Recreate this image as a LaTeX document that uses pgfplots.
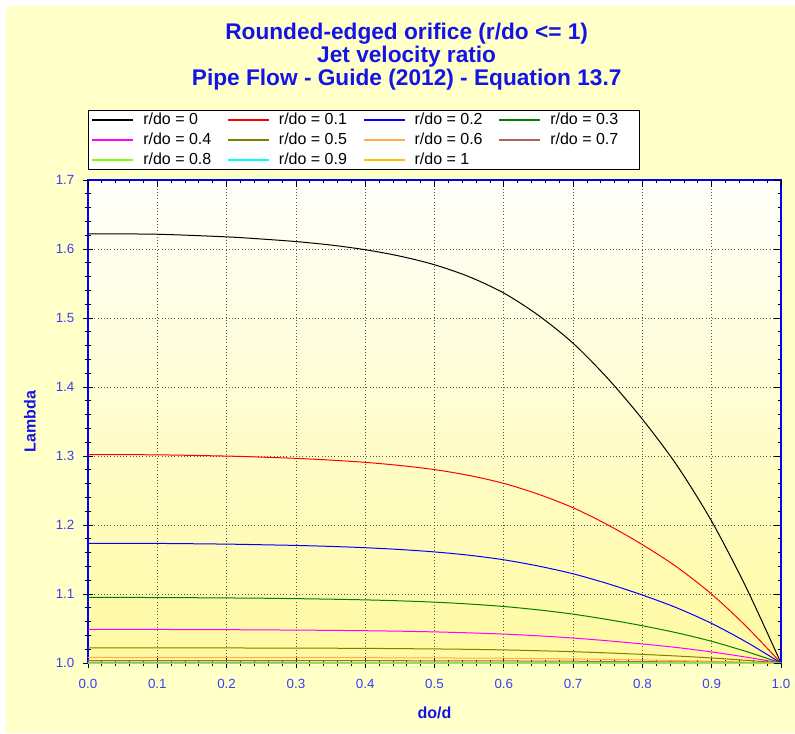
\documentclass[border=0pt]{standalone}
\usepackage{fontspec}
\setmainfont{Liberation Sans}
\usepackage{pgfplots}
\pgfplotsset{compat=1.18}
\definecolor{bgyellow}{RGB}{255,255,200}
\definecolor{plottop}{RGB}{255,255,252}
\definecolor{plotbottom}{RGB}{255,250,160}
\definecolor{titleblue}{RGB}{20,20,230}
\definecolor{tickblue}{RGB}{60,60,255}
\definecolor{lred}{RGB}{255,0,0}
\definecolor{lblue}{RGB}{0,0,255}
\definecolor{lgreen}{RGB}{0,128,0}
\definecolor{lmagenta}{RGB}{255,0,255}
\definecolor{lolive}{RGB}{128,128,0}
\definecolor{lorange}{RGB}{255,176,64}
\definecolor{lbrown}{RGB}{176,96,96}
\definecolor{llime}{RGB}{128,255,0}
\definecolor{lcyan}{RGB}{0,255,255}
\definecolor{lgold}{RGB}{255,192,0}

\newcommand{\lent}[1]{\addlegendentry{\makebox[68pt][l]{\hspace*{6pt}#1}}}
% legend sample: a thin filled bar in the plot's colour
\pgfplotsset{limg/.style={legend image code/.code={%
  \fill[fill=#1] (0pt,-0.5pt) rectangle (30pt,0.5pt);}}}

\begin{document}
\begin{tikzpicture}[x=1pt,y=1pt]
% page background, white strip on top and left
\fill[white] (-66,-52.5) rectangle (530.25,497.25);
\fill[bgyellow] (-61.5,-52.5) rectangle (530.25,492.75);

\begin{axis}[at={(0,0)}, anchor=south west, scale only axis,
  width=519.75pt, height=362.25pt,
  xmin=0, xmax=1, ymin=1, ymax=1.7,
  xtick={0,0.1,0.2,0.3,0.4,0.5,0.6,0.7,0.8,0.9,1},
  ytick={1,1.1,1.2,1.3,1.4,1.5,1.6,1.7},
  minor tick num=4,
  xtick pos=left, ytick pos=left,
  tick align=center,
  major tick length=7.5pt, minor tick length=4.5pt,
  tick style={black, line width=0.6pt},
  axis line style={blue, line width=1.1pt},
  grid=major, major grid style={dotted, black!65, line width=0.6pt},
  axis background/.style={shade, top color=plottop, bottom color=plotbottom},
  /pgf/number format/assume math mode=true,
  tick label style={font=\fontsize{10}{12}\selectfont, text=tickblue},
  xticklabel style={yshift=-4.5pt, /pgf/number format/.cd, fixed, fixed zerofill, precision=1},
  yticklabel style={xshift=-3pt, /pgf/number format/.cd, fixed, fixed zerofill, precision=1},
  xlabel={do/d}, ylabel={Lambda},
  label style={font=\fontsize{12}{14}\selectfont\bfseries, text=titleblue},
  xlabel style={at={(axis description cs:0.5,-0.1035)}, anchor=center},
  ylabel style={at={(axis description cs:-0.0837,0.5)}, anchor=center},
  legend columns=4, legend cell align=left,
  legend style={at={(axis description cs:0,1.1449)}, anchor=north west,
    fill=white, font=\fontsize{12}{14}\selectfont,
    inner xsep=3pt, inner ysep=0.5pt, row sep=1.8pt,
    nodes={inner sep=1.5pt}},
  every axis plot/.append style={line width=0.75pt}
]
\addplot[color=black, smooth, limg=black] coordinates {
 (0,1.6220) (0.1,1.6214) (0.2,1.6176) (0.25,1.6145) (0.3,1.6108) (0.35,1.6058)
 (0.4,1.5990) (0.45,1.5897) (0.5,1.5772) (0.55,1.5598) (0.6,1.5362) (0.65,1.5038)
 (0.7,1.4634) (0.75,1.4124) (0.8,1.3533) (0.85,1.2861) (0.9,1.2053) (0.95,1.1089) (1,1.0)};
\lent{r/do = 0}
\addplot[color=lred, smooth, limg=lred] coordinates {
 (0,1.3020) (0.1,1.3017) (0.2,1.2999) (0.25,1.2984) (0.3,1.2966) (0.35,1.2941)
 (0.4,1.2908) (0.45,1.2863) (0.5,1.2803) (0.55,1.2718) (0.6,1.2603) (0.65,1.2446)
 (0.7,1.2250) (0.75,1.2002) (0.8,1.1715) (0.85,1.1389) (0.9,1.0997) (0.95,1.0529) (1,1.0)};
\lent{r/do = 0.1}
\addplot[color=lblue, smooth, limg=lblue] coordinates {
 (0,1.1735) (0.1,1.1733) (0.2,1.1723) (0.25,1.1714) (0.3,1.1704) (0.35,1.1690)
 (0.4,1.1671) (0.45,1.1645) (0.5,1.1610) (0.55,1.1562) (0.6,1.1496) (0.65,1.1405)
 (0.7,1.1293) (0.75,1.1150) (0.8,1.0985) (0.85,1.0798) (0.9,1.0573) (0.95,1.0304) (1,1.0)};
\lent{r/do = 0.2}
\addplot[color=lgreen, smooth, limg=lgreen] coordinates {
 (0,1.0950) (0.1,1.0949) (0.2,1.0943) (0.25,1.0939) (0.3,1.0933) (0.35,1.0925)
 (0.4,1.0915) (0.45,1.0901) (0.5,1.0882) (0.55,1.0855) (0.6,1.0819) (0.65,1.0770)
 (0.7,1.0708) (0.75,1.0630) (0.8,1.0540) (0.85,1.0437) (0.9,1.0314) (0.95,1.0166) (1,1.0)};
\lent{r/do = 0.3}
\addplot[color=lmagenta, smooth, limg=lmagenta] coordinates {
 (0,1.0486) (0.1,1.0486) (0.2,1.0483) (0.25,1.0480) (0.3,1.0477) (0.35,1.0473)
 (0.4,1.0468) (0.45,1.0461) (0.5,1.0451) (0.55,1.0437) (0.6,1.0419) (0.65,1.0394)
 (0.7,1.0362) (0.75,1.0322) (0.8,1.0276) (0.85,1.0224) (0.9,1.0160) (0.95,1.0085) (1,1.0)};
\lent{r/do = 0.4}
\addplot[color=lolive, smooth, limg=lolive] coordinates {
 (0,1.0220) (0.1,1.0220) (0.2,1.0218) (0.3,1.0216) (0.4,1.0212) (0.5,1.0204)
 (0.55,1.0198) (0.6,1.0190) (0.65,1.0178) (0.7,1.0164) (0.75,1.0146) (0.8,1.0125)
 (0.85,1.0101) (0.9,1.0073) (0.95,1.0039) (1,1.0)};
\lent{r/do = 0.5}
\addplot[color=lorange, limg=lorange] coordinates {
 (0,1.0080) (0.2,1.0079) (0.4,1.0077) (0.5,1.0074) (0.6,1.0069) (0.7,1.0060)
 (0.8,1.0045) (0.9,1.0026) (0.95,1.0014) (1,1.0)};
\lent{r/do = 0.6}
\addplot[color=lbrown, limg=lbrown] coordinates {
 (0,1.0035) (0.4,1.0034) (0.6,1.0030) (0.7,1.0026) (0.8,1.0020) (0.9,1.0012) (1,1.0)};
\lent{r/do = 0.7}
\addplot[color=llime, limg=llime] coordinates {
 (0,1.0012) (0.6,1.0010) (0.8,1.0007) (0.9,1.0004) (1,1.0)};
\lent{r/do = 0.8}
\addplot[color=lcyan, limg=lcyan] coordinates {
 (0,1.0002) (0.8,1.0001) (1,1.0)};
\lent{r/do = 0.9}
\addplot[color=lgold, limg=lgold] coordinates {
 (0,1.0) (1,1.0)};
\lent{r/do = 1}
\end{axis}

% inward ticks on the top and right sides
\begin{axis}[at={(0,0)}, anchor=south west, scale only axis,
  width=519.75pt, height=362.25pt,
  xmin=0, xmax=1, ymin=1, ymax=1.7,
  xtick={0,0.1,0.2,0.3,0.4,0.5,0.6,0.7,0.8,0.9,1},
  ytick={1,1.1,1.2,1.3,1.4,1.5,1.6,1.7},
  minor tick num=4,
  xtick pos=right, ytick pos=right,
  tick align=inside,
  major tick length=5.25pt, minor tick length=2.6pt,
  tick style={black, line width=0.6pt},
  axis line style={draw=none},
  xticklabels={}, yticklabels={}]
\end{axis}

\node[font=\fontsize{17}{17.5}\selectfont\bfseries, text=titleblue, align=center,
  anchor=north, inner sep=0pt] at (239,480.5)
  {Rounded-edged orifice (r/do <= 1)\\Jet velocity ratio\\Pipe Flow - Guide (2012) - Equation 13.7};

\pgfresetboundingbox
\path[use as bounding box] (-66,-52.5) rectangle (530.25,497.25);
\end{tikzpicture}
\end{document}
